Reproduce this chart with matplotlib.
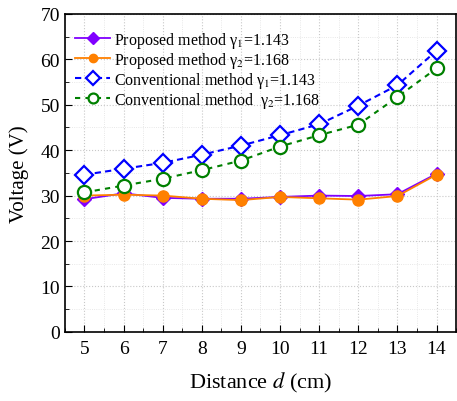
import numpy as np
from matplotlib import pyplot as plt
from matplotlib.ticker import MultipleLocator

plt.rcParams['font.family'] = ['Liberation Serif', 'DejaVu Serif']
plt.rcParams['mathtext.fontset'] = 'stix'

distance = [5, 6, 7, 8, 9, 10, 11, 12, 13, 14]
prop_g1 = [29.2, 30.5, 29.5, 29.3, 29.3, 29.7, 30.0, 29.9, 30.3, 34.8]
prop_g2 = [30.0, 30.2, 30.0, 29.3, 29.0, 29.7, 29.4, 29.1, 29.9, 34.6]
conv_g1 = [34.6, 35.9, 37.2, 39.0, 41.0, 43.3, 45.7, 49.8, 54.3, 61.9]
conv_g2 = [30.7, 32.2, 33.7, 35.6, 37.7, 40.8, 43.3, 45.6, 51.7, 58.0]

fig = plt.figure(figsize=(4.57, 4.02), dpi=100)
ax = fig.add_axes([0.142, 0.172, 0.856, 0.791])

ax.plot(distance, prop_g1, '-D', c='#8000ff', ms=7.5, lw=1.3,
        label=r'Proposed method γ$_1$=1.143')
ax.plot(distance, prop_g2, '-o', c='#ff8000', ms=8, lw=1.3,
        label=r'Proposed method γ$_2$=1.168')
ax.plot(distance, conv_g1, '--D', c='#0000ff', ms=9, lw=1.5, mfc='white', mew=1.6,
        dashes=(3, 2), label=r'Conventional method γ$_1$=1.143')
ax.plot(distance, conv_g2, '--o', c='#008000', ms=9.5, lw=1.5, mfc='white', mew=1.6,
        dashes=(2.5, 2.5), label=r'Conventional method  γ$_2$=1.168')

ax.set_xlim(4.5, 14.5)
ax.set_ylim(0, 70)
ax.set_xticks(distance)
ax.xaxis.set_minor_locator(MultipleLocator(0.5))
ax.yaxis.set_major_locator(MultipleLocator(10))
ax.yaxis.set_minor_locator(MultipleLocator(5))
ax.tick_params(which='both', direction='in', labelsize=14, top=False, right=False)
ax.tick_params(axis='x', pad=6)
ax.tick_params(which='major', length=5)
ax.tick_params(which='minor', length=3)
ax.grid(which='major', ls=':', c='#c8c8c8', lw=0.8)
ax.grid(which='minor', ls=':', c='#e0e0e0', lw=0.6)
for s in ax.spines.values():
    s.set_linewidth(1.2)

ax.set_xlabel('Distance $d$ (cm)', fontsize=16, labelpad=9)
ax.set_ylabel('Voltage (V)', fontsize=15, labelpad=8)

ax.legend(loc='upper left', frameon=False, fontsize=11.5, handlelength=2.2,
          handletextpad=0.25, labelspacing=0.0, borderaxespad=0.0,
          markerscale=0.75, bbox_to_anchor=(0.01, 0.97))

fig.savefig('out.png', dpi=100)
